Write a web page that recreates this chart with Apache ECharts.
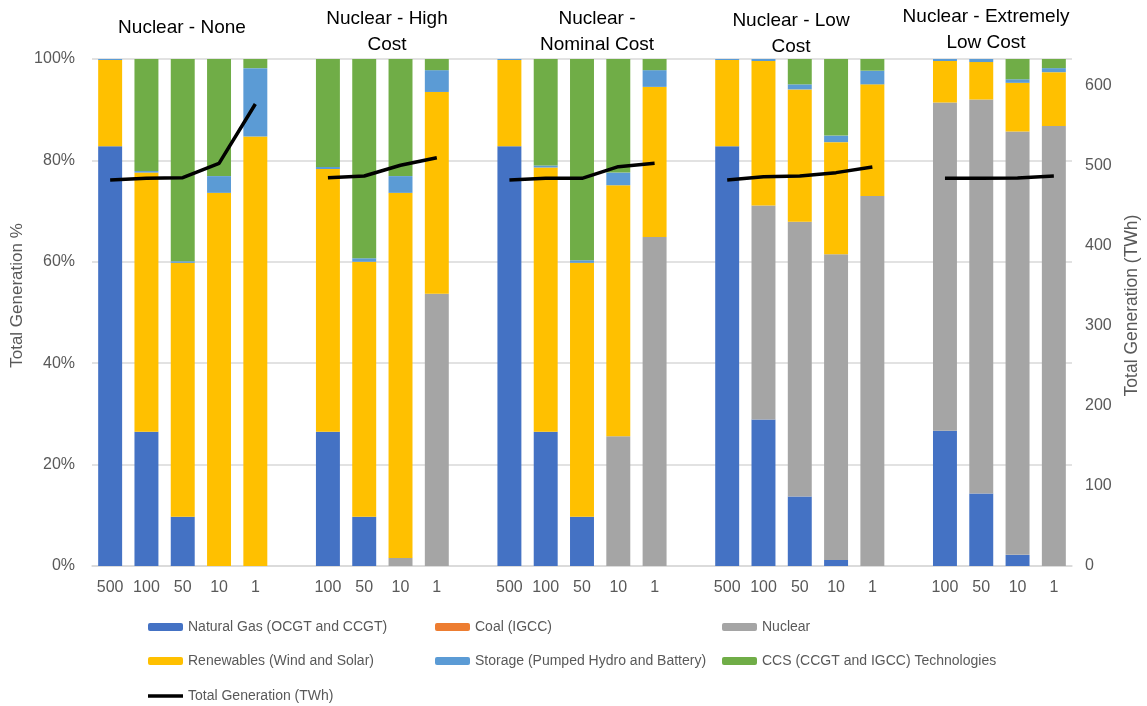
<!DOCTYPE html>
<html>
<head>
<meta charset="utf-8">
<script src="https://cdn.jsdelivr.net/npm/echarts@6/dist/echarts.min.js"></script>
<style>html,body{margin:0;padding:0;background:#fff}#c{width:1147px;height:706px}</style>
</head>
<body>
<div id="c"></div>
<script>
// Categories (blank entries separate the scenario groups)
const categories = ['500','100','50','10','1','', '100','50','10','1','', '500','100','50','10','1','', '500','100','50','10','1','', '100','50','10','1'];
const groupTitles = ['Nuclear - None', 'Nuclear - High\nCost', 'Nuclear -\nNominal Cost', 'Nuclear - Low\nCost', 'Nuclear - Extremely\nLow Cost'];

// Shares of total generation, %
const naturalGas = [82.8,26.5,9.7,0,0, null, 26.5,9.7,0,0, null, 82.8,26.5,9.7,0,0, null, 82.8,28.9,13.7,1.2,0, null, 26.7,14.3,2.2,0];
const coal       = [0,0,0,0,0, null, 0,0,0,0, null, 0,0,0,0,0, null, 0,0,0,0,0, null, 0,0,0,0];
const nuclear    = [0,0,0,0,0, null, 0,0,1.6,53.7, null, 0,0,0,25.6,64.9, null, 0,42.2,54.2,60.3,73.0, null, 64.7,77.7,83.5,86.8];
const renewables = [17.0,51.1,50.1,73.6,84.7, null, 51.8,50.3,72.0,39.8, null, 17.0,52.1,50.1,49.5,29.6, null, 17.0,28.5,26.1,22.1,22.0, null, 8.2,7.4,9.6,10.6];
const storage    = [0.2,0.3,0.3,3.3,13.5, null, 0.4,0.7,3.3,4.3, null, 0.2,0.4,0.5,2.5,3.3, null, 0.2,0.4,1.0,1.3,2.7, null, 0.4,0.6,0.7,0.8];
const ccs        = [0,22.1,39.9,23.1,1.8, null, 21.3,39.3,23.1,2.2, null, 0,21.0,39.7,22.4,2.2, null, 0,0,5.0,15.1,2.3, null, 0,0,4.0,1.8];
// Total generation, TWh
const totalGen   = [482.5,484.6,485.4,503.3,577.5, null, 485.4,487.5,501,510.4, null, 482.5,484.6,484.6,499.2,503.3, null, 482.5,486.7,487.5,491.7,498.8, null, 484.6,484.6,485,487.5];

const leftTicks = [0,20,40,60,80,100];
const rightTicks = [0,100,200,300,400,500,600];

const FONT = "'Liberation Sans', Arial, sans-serif";
const GREY = '#595959';

const chart = echarts.init(document.getElementById('c'), null, {renderer:'canvas'});

function bar(name, data, color) {
  return { name, type:'bar', stack:'gen', data, barWidth:'66%',
    itemStyle:{color}, emphasis:{disabled:true}, z:2 };
}
function legend(left, top, names, extra) {
  return Object.assign({ left, top, orient:'vertical', itemWidth:35, itemHeight:8, itemGap:18,
    textStyle:{color:GREY, fontSize:14, lineHeight:16, fontFamily:FONT}, data:names }, extra || {});
}

const titlePos = [[182,28],[387,32],[597,32],[791,34],[986,30]];

chart.setOption({
  animation:false,
  textStyle:{fontFamily:FONT},
  grid:{left:92, right:75, top:59, bottom:140, containLabel:false, outerBoundsMode:'none'},
  xAxis:{ type:'category', data:categories,
    axisLine:{lineStyle:{color:'#d9d9d9', width:1.5}}, axisTick:{show:false},
    axisLabel:{color:GREY, fontSize:16, margin:14, interval:0, fontFamily:FONT} },
  yAxis:[
    { type:'value', min:leftTicks[0], max:leftTicks[leftTicks.length-1], interval:20,
      name:'Total Generation %', nameLocation:'middle', nameGap:66, nameRotate:90, nameMoveOverlap:false,
      nameTextStyle:{color:GREY, fontSize:17, fontFamily:FONT, padding:[0,0,0,34]},
      axisLabel:{color:GREY, fontSize:16, formatter:'{value}%', margin:17, fontFamily:FONT},
      axisLine:{show:false}, axisTick:{show:false},
      splitLine:{lineStyle:{color:'#d9d9d9', width:1.5}} },
    { type:'value', min:rightTicks[0], max:633.75, interval:100,
      name:'Total Generation (TWh)', nameLocation:'middle', nameGap:51, nameRotate:90,
      nameTextStyle:{color:GREY, fontSize:17.5, fontFamily:FONT, padding:[0,0,0,14]},
      axisLabel:{color:GREY, fontSize:16, margin:13, showMaxLabel:false, fontFamily:FONT},
      axisLine:{show:false}, axisTick:{show:false}, splitLine:{show:false} }
  ],
  legend:[
    legend(143, 614, ['Natural Gas (OCGT and CCGT)','Renewables (Wind and Solar)']),
    legend(430, 614, ['Coal (IGCC)','Storage (Pumped Hydro and Battery)']),
    legend(717, 614, ['Nuclear','CCS (CCGT and IGCC) Technologies']),
    legend(143, 683, [{name:'Total Generation (TWh)', icon:'rect'}], {itemHeight:3.5, itemStyle:{color:'#000'}})
  ],
  graphic: groupTitles.map((t,i)=>({
    type:'text', x:titlePos[i][0], y:titlePos[i][1], z:10,
    style:{ text:t, align:'center', verticalAlign:'middle', fill:'#000',
      font:"19px "+FONT, lineHeight:26 }
  })),
  series:[
    bar('Natural Gas (OCGT and CCGT)', naturalGas, '#4472C4'),
    bar('Coal (IGCC)', coal, '#ED7D31'),
    bar('Nuclear', nuclear, '#A5A5A5'),
    bar('Renewables (Wind and Solar)', renewables, '#FFC000'),
    bar('Storage (Pumped Hydro and Battery)', storage, '#5B9BD5'),
    bar('CCS (CCGT and IGCC) Technologies', ccs, '#70AD47'),
    { name:'Total Generation (TWh)', type:'line', yAxisIndex:1, data:totalGen,
      symbol:'none', connectNulls:false, z:5,
      lineStyle:{color:'#000', width:3.5}, itemStyle:{color:'#000'},
      emphasis:{disabled:true} }
  ]
});
</script>
</body>
</html>
